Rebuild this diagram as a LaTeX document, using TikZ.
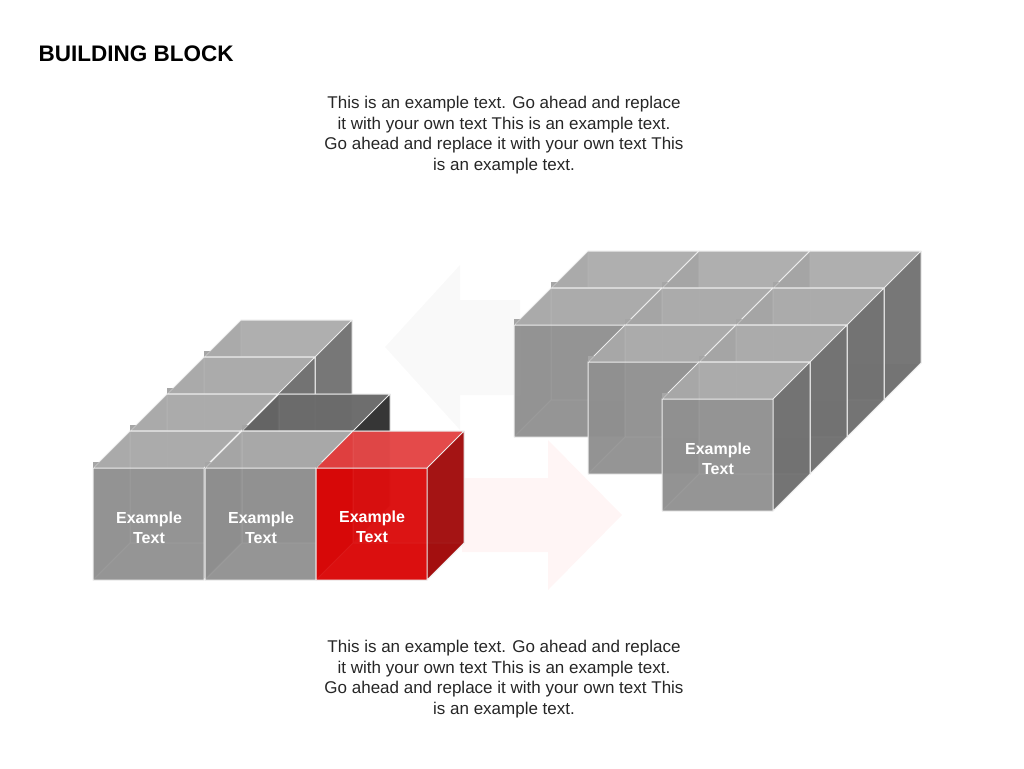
\documentclass[tikz,border=0pt]{standalone}
\usepackage{fontspec}
\setmainfont{Liberation Sans}
\begin{document}
\begin{tikzpicture}[x=1pt,y=-1pt,
  para/.style={align=center,font=\fontsize{17}{20.5}\selectfont,text=black!85},
  lbl/.style={align=center,text=white,font=\bfseries\fontsize{16}{20}\selectfont},
  edge/.style={draw=white!85!gray,line width=1pt,line join=round}]
\useasboundingbox (0,0) rectangle (1024,768);
\fill[gray!5] (385,347) -- (460,265) -- (460,300) -- (520,300) -- (520,395) -- (460,395) -- (460,430) -- cycle;
\fill[red!4] (622,515) -- (548,440) -- (548,478) -- (462,478) -- (462,552) -- (548,552) -- (548,590) -- cycle;
\newcommand{\mycube}[4]{%
  \begin{scope}[shift={(#1,#2)}]
  \fill[#3!55!white,opacity=#4] (37,-37) rectangle (148,-149);
  \fill[#3!80!white,opacity=#4] (0,0) -- (37,-37) -- (37,-149) -- (0,-112) -- cycle;
  \fill[#3!70!white,opacity=#4] (0,0) -- (111,0) -- (148,-37) -- (37,-37) -- cycle;
  \draw[edge,opacity=0.5] (37,-37) rectangle (148,-149) (0,0)--(37,-37);
  \fill[#3,opacity=#4] (0,0) rectangle (111,-112);
  \fill[#3!75!white,opacity=#4] (0,-112) -- (111,-112) -- (148,-149) -- (37,-149) -- cycle;
  \fill[#3!70!black,opacity=#4] (111,0) -- (148,-37) -- (148,-149) -- (111,-112) -- cycle;
  \draw[edge] (0,0) rectangle (111,-112) (0,-112) -- (37,-149) -- (148,-149) -- (111,-112)
     (148,-149) -- (148,-37) -- (111,0);
  \fill[gray!70] (0,-112) -- (6,-118) -- (0,-118) -- cycle;
  \end{scope}}
\colorlet{cg}{gray!90!white}
\colorlet{cdark}{black!80}
\colorlet{cred}{red!85!black}
\mycube{204}{469}{cg}{0.8}
\mycube{167}{506}{cg}{0.8}
\mycube{130}{543}{cg}{0.8}
\mycube{242}{543}{cdark}{0.85}
\mycube{93}{580}{cg}{0.8}
\mycube{205}{580}{cg}{0.8}
\mycube{316}{580}{cred}{0.85}
\mycube{551}{400}{cg}{0.8}
\mycube{662}{400}{cg}{0.8}
\mycube{773}{400}{cg}{0.8}
\mycube{514}{437}{cg}{0.8}
\mycube{625}{437}{cg}{0.8}
\mycube{736}{437}{cg}{0.8}
\mycube{588}{474}{cg}{0.8}
\mycube{699}{474}{cg}{0.8}
\mycube{662}{511}{cg}{0.8}
\node[lbl] (l1) at (149,528) {Example\\Text};
\node[lbl] (l2) at (261,528) {Example\\Text};
\node[lbl] (l3) at (372,527) {Example\\Text};
\node[lbl] (l4) at (718,459) {Example\\Text};
\node[anchor=west,font=\bfseries\fontsize{22.5}{26}\selectfont] (title) at (35,54) {BUILDING BLOCK};
\node[para] (top) at (504,135) {This is an example text. Go ahead and replace\\it with your own text This is an example text.\\Go ahead and replace it with your own text This\\is an example text.};
\node[para] (bot) at (504,679) {This is an example text. Go ahead and replace\\it with your own text This is an example text.\\Go ahead and replace it with your own text This\\is an example text.};
\end{tikzpicture}
\end{document}
